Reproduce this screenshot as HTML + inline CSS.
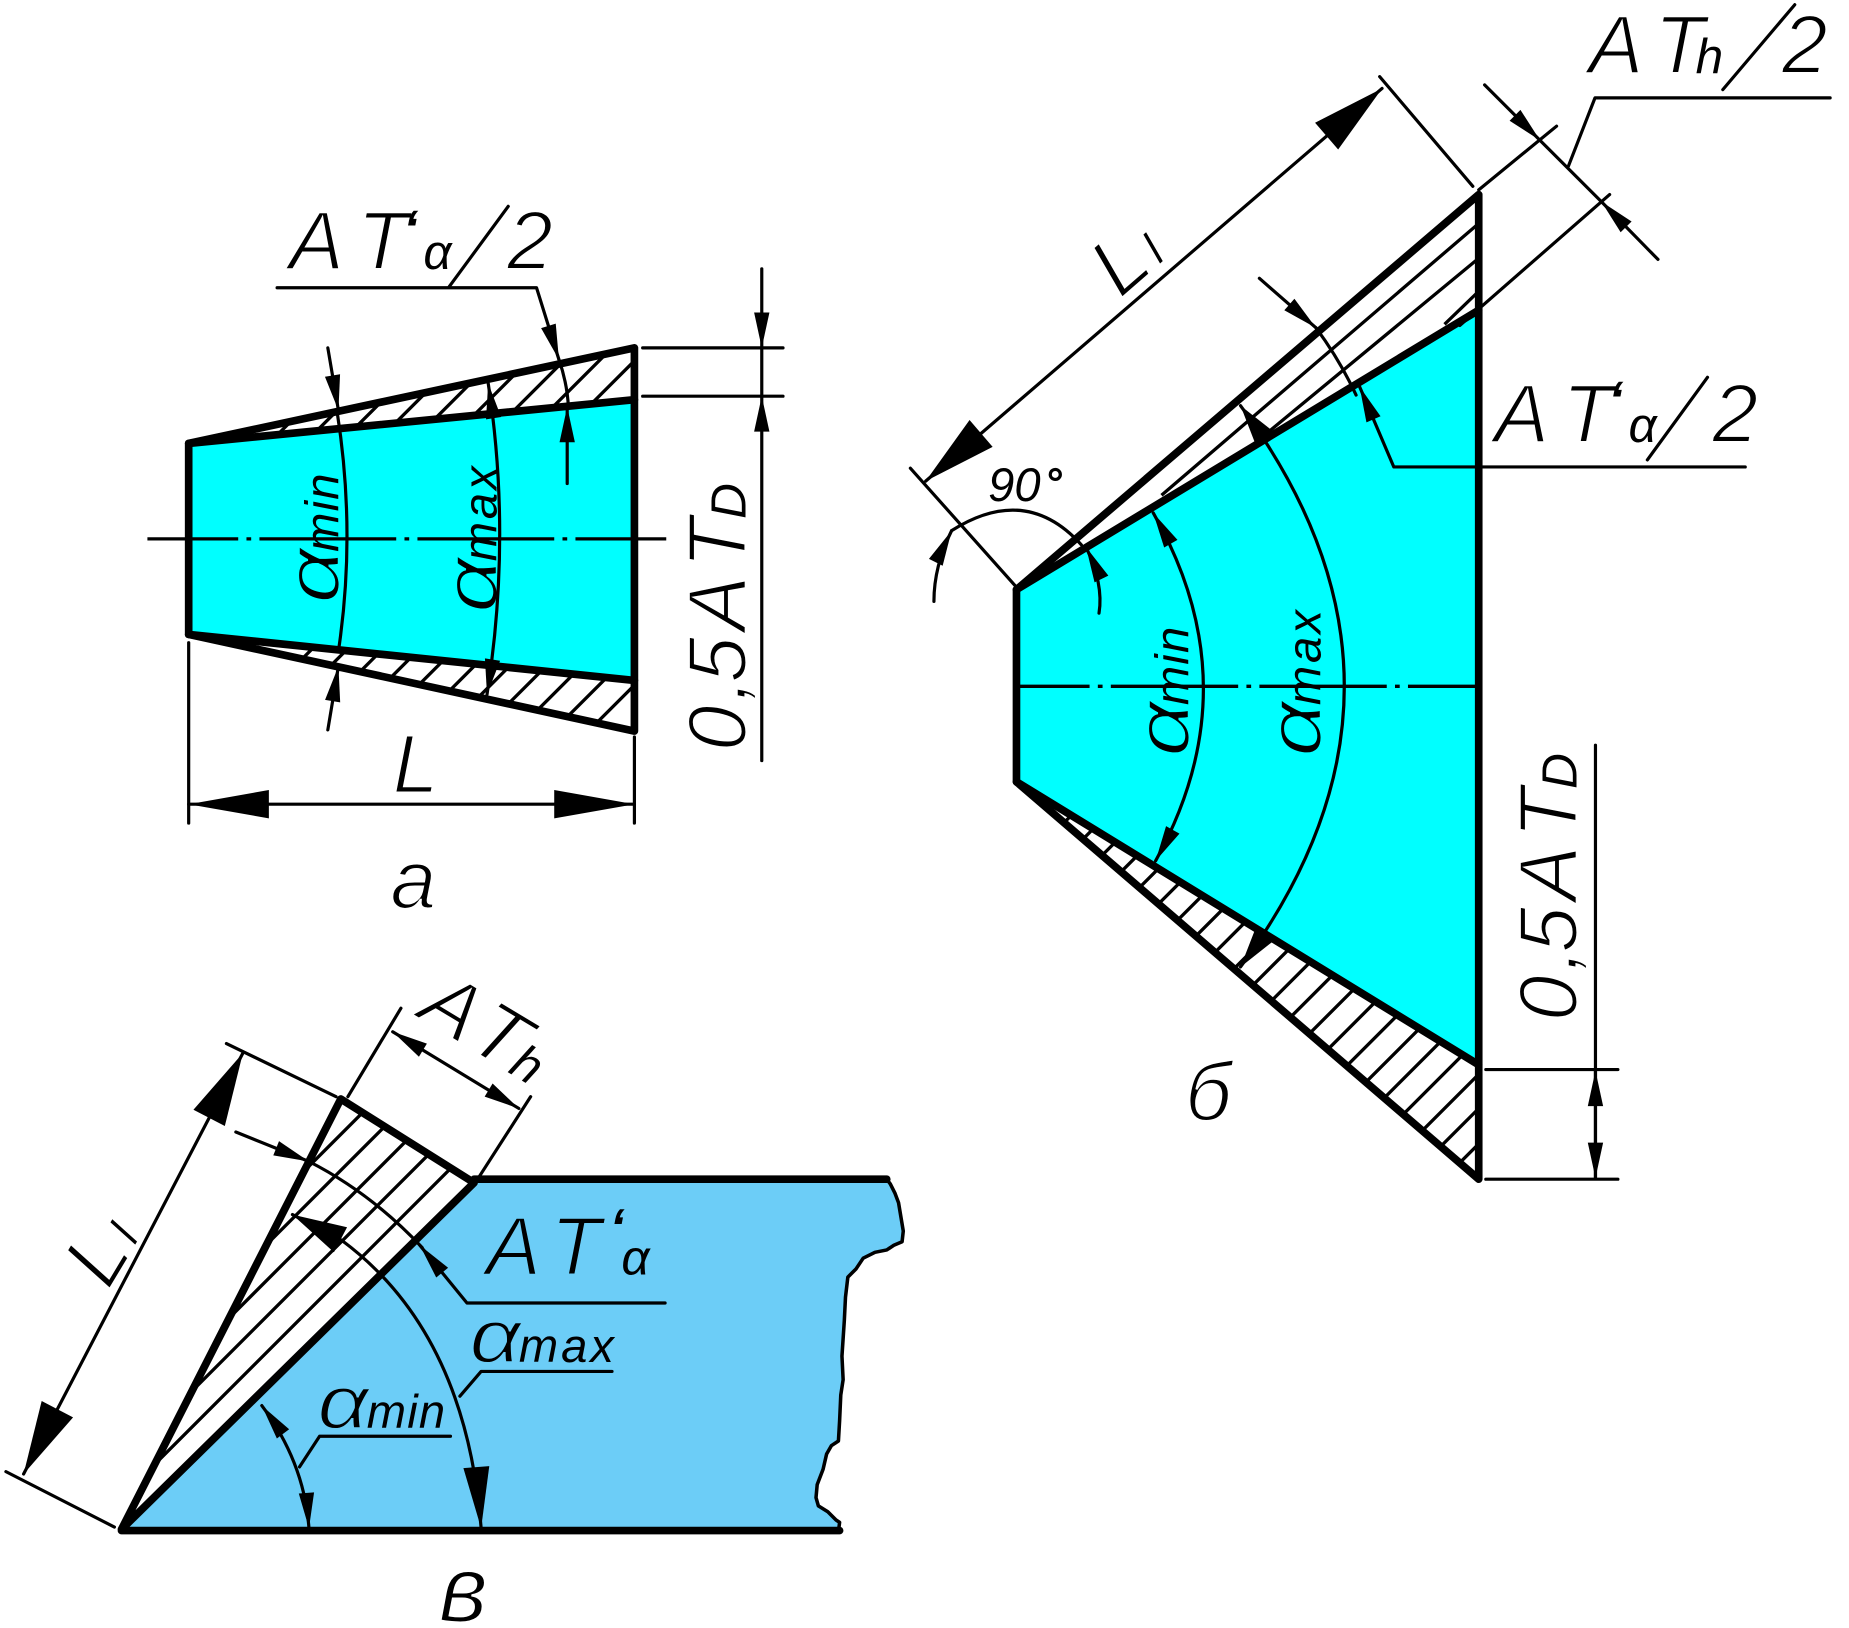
<!DOCTYPE html>
<html><head><meta charset="utf-8"><style>
html,body{margin:0;padding:0;background:#fff}
svg{display:block}
text{font-family:"Liberation Sans",sans-serif;font-style:italic;fill:#000}
.w{stroke:#fff;stroke-width:1.8}
.b{stroke:#6ccdf7;stroke-width:1.8}
.c2{stroke:#0ff;stroke-width:1.6}
.b2{stroke:#6ccdf7;stroke-width:1.6}
.ap{font-weight:bold;font-size:44px}
.l{fill:none;stroke:#000;stroke-width:2.7;stroke-linecap:round;stroke-linejoin:round}
.h{fill:none;stroke:#000;stroke-width:2.8}
.t{fill:none;stroke:#000;stroke-width:6.5;stroke-linecap:round;stroke-linejoin:round}
</style></head><body>
<svg xmlns="http://www.w3.org/2000/svg" width="1849" height="1628" viewBox="0 0 1568 1380.6">
<defs>
<marker id="s" markerUnits="userSpaceOnUse" markerWidth="70" markerHeight="40" viewBox="-35 -20 70 40" refX="0" refY="0" orient="auto-start-reverse"><path d="M0,0 L-30,-6.5 L-30,6.5Z"/></marker>
<marker id="k" markerUnits="userSpaceOnUse" markerWidth="70" markerHeight="40" viewBox="-35 -20 70 40" refX="0" refY="0" orient="auto-start-reverse"><path d="M0,0 L-33,-9 L-33,9Z"/></marker>
<marker id="m" markerUnits="userSpaceOnUse" markerWidth="120" markerHeight="60" viewBox="-60 -30 120 60" refX="0" refY="0" orient="auto-start-reverse"><path d="M0,0 L-52,-11 L-52,11Z"/></marker>
<marker id="n" markerUnits="userSpaceOnUse" markerWidth="120" markerHeight="60" viewBox="-60 -30 120 60" refX="0" refY="0" orient="auto-start-reverse"><path d="M0,0 L-46,-12 L-46,12Z"/></marker>
<marker id="B" markerUnits="userSpaceOnUse" markerWidth="160" markerHeight="80" viewBox="-80 -40 160 80" refX="0" refY="0" orient="auto-start-reverse"><path d="M0,0 L-68,-12 L-68,12Z"/></marker>
<marker id="C" markerUnits="userSpaceOnUse" markerWidth="160" markerHeight="80" viewBox="-80 -40 160 80" refX="0" refY="0" orient="auto-start-reverse"><path d="M0,0 L-62,-15 L-62,15Z"/></marker>
<clipPath id="c1"><polygon points="160,376 538,295 538,339"/></clipPath>
<clipPath id="c2"><polygon points="160,538 538,577 538,620"/></clipPath>
<clipPath id="c3"><polygon points="862,500 1254,165 1254,263"/></clipPath>
<clipPath id="c4"><polygon points="862,663 1254,903 1254,1000"/></clipPath>
<clipPath id="c5"><polygon points="103,1297 289,932 402,1003"/></clipPath>
</defs>

<!-- fills -->
<polygon points="160,376 538,339 538,577 160,538" fill="#0ff"/>
<polygon points="862,500 1254,263 1254,903 862,663" fill="#0ff"/>
<path d="M103,1297 L402,1000 L752,1000 L755,1004 L759,1012 L762,1020 L764,1032 L766,1044 L765,1053 L758,1056 L752,1060 L742,1062 L732,1067 L726,1076 L719,1083 L717,1100 L716,1120 L714,1150 L715,1170 L713,1183 L712,1205 L711,1222 L705,1226 L701,1233 L698,1246 L693,1259 L692,1270 L694,1277 L702,1282 L709,1289 L712,1291 L711,1299 Z" fill="#6ccdf7"/>

<!-- hatching -->
<g class="h" clip-path="url(#c1)">
<path d="M44 800l700-700M14 800l700-700M-16 800l700-700M-46 800l700-700M-76 800l700-700M-106 800l700-700M-136 800l700-700M-166 800l700-700M-196 800l700-700M-226 800l700-700"/>
</g>
<g class="h" clip-path="url(#c2)">
<path d="M319 800l700-700M289 800l700-700M258 800l700-700M228 800l700-700M197 800l700-700M167 800l700-700M136 800l700-700M106 800l700-700M75 800l700-700M45 800l700-700M15 800l700-700"/>
</g>
<g class="h" clip-path="url(#c3)">
<path d="M1254,189.5 L985,420M1254,219 L1070,371M1254,247 L1225,275"/>
</g>
<g class="h" clip-path="url(#c4)">
<path d="M1124 1100l800-800M1094 1100l800-800M1065 1100l800-800M1035 1100l800-800M1005 1100l800-800M976 1100l800-800M946 1100l800-800M916 1100l800-800M887 1100l800-800M857 1100l800-800M827 1100l800-800M798 1100l800-800M768 1100l800-800M738 1100l800-800M708 1100l800-800M679 1100l800-800M649 1100l800-800M619 1100l800-800M590 1100l800-800M560 1100l800-800M530 1100l800-800M500 1100l800-800"/>
</g>
<g class="h" clip-path="url(#c5)">
<path d="M-27 1400l600-600M-57.5 1400l600-600M-88 1400l600-600M-118.5 1400l600-600M-149 1400l600-600"/>
</g>

<!-- text -->
<g font-size="70">
<!-- a -->
<text class="w" x="245 303" y="228">AT</text>
<text class="ap" x="342" y="209">‘</text>
<text font-size="42" x="359" y="228">α</text>
<text class="w" x="430" y="228">2</text>
<text class="w" x="333" y="672">L</text>
<text class="w" x="331" y="770">а</text>
<text class="w" transform="translate(632,637) rotate(-90)" x="0 42 58 102 155">0,5AT</text>
<text font-size="42" transform="translate(632,637) rotate(-90)" x="197">D</text>
<!-- b -->
<text class="w" x="1347 1403" y="62">AT</text>
<text font-size="42" x="1438" y="62">h</text>
<text class="w" x="1511" y="62">2</text>
<text class="w" x="1267 1325" y="375">AT</text>
<text class="ap" x="1364" y="354">‘</text>
<text font-size="42" x="1381" y="375">α</text>
<text class="w" x="1452" y="375">2</text>
<text class="w" transform="translate(1337,866) rotate(-90)" x="0 42 58 102 155">0,5AT</text>
<text font-size="42" transform="translate(1337,866) rotate(-90)" x="197">D</text>
<text font-size="40" x="838" y="425">90</text>
<text font-size="36" x="886" y="422" font-weight="bold">°</text>
<text class="w" transform="translate(950,254) rotate(-41)" x="0">L</text>
<text class="w" font-size="56" transform="translate(950,254) rotate(-41)" x="42">ı</text>
<text class="w" x="1005" y="950">б</text>
<!-- c -->
<text class="b" x="412 467" y="1081">AT</text>
<text class="ap" x="517" y="1056">‘</text>
<text font-size="42" x="527" y="1081">α</text>
<text class="w" transform="translate(352,862) rotate(31)" x="0 49">AT</text>
<text font-size="42" transform="translate(352,862) rotate(31)" x="91">h</text>
<text class="w" transform="translate(92,1095) rotate(-59)" x="0">L</text>
<text class="w" font-size="56" transform="translate(92,1095) rotate(-59)" x="42">ı</text>
<text class="w" font-size="80" x="372" y="1375">в</text>
</g>
<!-- alpha labels -->
<g font-size="40">
<g transform="translate(287,512) rotate(-90)"><text class="c2" font-size="64" transform="scale(1.3,1)">α</text><text x="44" letter-spacing="1">min</text></g>
<g transform="translate(421,520) rotate(-90)"><text class="c2" font-size="64" transform="scale(1.3,1)">α</text><text x="44" letter-spacing="2.5">max</text></g>
<g transform="translate(1008,642) rotate(-90)"><text class="c2" font-size="64" transform="scale(1.3,1)">α</text><text x="44" letter-spacing="1">min</text></g>
<g transform="translate(1120,642) rotate(-90)"><text class="c2" font-size="64" transform="scale(1.3,1)">α</text><text x="44" letter-spacing="2.5">max</text></g>
<g transform="translate(269,1211)"><text class="b2" font-size="64" transform="scale(1.2,1)">α</text><text x="42" letter-spacing="1">min</text></g>
<g transform="translate(398,1155)"><text class="b2" font-size="64" transform="scale(1.2,1)">α</text><text x="42" letter-spacing="2.5">max</text></g>
</g>
<path class="l" d="M431,175 L381,243"/>
<path class="l" d="M1522,4 L1461,76"/>
<path class="l" d="M1448,320 L1397,390"/>

<!-- thick outlines -->
<polygon class="t" points="160,376 538,295 538,620 160,538" fill="none"/>
<path class="t" d="M160,376 L538,339M160,538 L538,577"/>
<polygon class="t" points="862,500 1254,165 1254,1000 862,663" fill="none"/>
<path class="t" d="M862,500 L1254,263M862,663 L1254,903"/>
<path class="t" d="M103,1297 L289,932 L402,1003 L103,1297 M103,1298 L712,1298 M402,1000 L752,1000"/>
<path fill="none" stroke="#000" stroke-width="3" stroke-linejoin="round" d="M752,1000 L755,1004 L759,1012 L762,1020 L764,1032 L766,1044 L765,1053 L758,1056 L752,1060 L742,1062 L732,1067 L726,1076 L719,1083 L717,1100 L716,1120 L714,1150 L715,1170 L713,1183 L712,1205 L711,1222 L705,1226 L701,1233 L698,1246 L693,1259 L692,1270 L694,1277 L702,1282 L709,1289 L712,1291 L711,1299"/>

<!-- centre lines -->
<path class="h" stroke-dasharray="116 7 4 7" stroke-dashoffset="39" d="M125,457 L565,457"/>
<path class="h" stroke-dasharray="108 7 4 7" stroke-dashoffset="46" d="M862,582 L1254,582"/>

<!-- a dims -->
<path class="l" d="M160,545 L160,698M538,625 L538,698M545,295 L664,295M545,336 L664,336"/>
<path class="l" marker-start="url(#B)" marker-end="url(#B)" d="M160,682 L538,682"/>
<path class="l" marker-end="url(#s)" d="M646,228 L646,295"/>
<path class="l" marker-end="url(#s)" d="M646,645 L646,336"/>
<path class="l" d="M646,295 L646,336"/>
<path class="l" marker-end="url(#s)" d="M235,244 L455,244 L474,305"/>
<path class="l" d="M474,305 Q481,325 482,345"/>
<path class="l" marker-end="url(#s)" d="M481,410 L481,345"/>
<path class="l" marker-end="url(#s)" d="M278,295 L287,348"/>
<path class="l" marker-end="url(#s)" d="M278,619 L287,565"/>
<path class="l" d="M286,350 Q302,452 287,552"/>
<path class="l" marker-start="url(#s)" marker-end="url(#s)" d="M414,325 Q434,455 413,589"/>

<!-- b dims -->
<path class="l" d="M1170,65 L1249,158M772,397 L862,498M1254,161 L1320,107M1238,276 L1365,165"/>
<path class="l" marker-start="url(#C)" marker-end="url(#C)" d="M785,408 L1172,75"/>
<path class="l" marker-end="url(#s)" d="M1259,72 L1306,119"/>
<path class="l" d="M1306,119 L1358,171"/>
<path class="l" marker-end="url(#s)" d="M1406,220 L1358,171"/>
<path class="l" d="M1330,141 L1352.6,83 L1552,83"/>
<path class="l" marker-end="url(#s)" d="M1068,236 L1116,278"/>
<path class="l" d="M1116,278 Q1136,305 1150,335"/>
<path class="l" marker-end="url(#s)" d="M1480,396 L1182,396 L1153,328"/>
<path class="l" marker-start="url(#s)" marker-end="url(#s)" d="M978,435 Q1062,582 980,730"/>
<path class="l" marker-start="url(#k)" marker-end="url(#k)" d="M1052,344 Q1228,582 1052,820"/>
<path class="l" marker-end="url(#s)" d="M792,510 Q792,480 807,450"/>
<path class="l" d="M807,450 Q870,410 917,462"/>
<path class="l" marker-end="url(#s)" d="M932,520 Q936,495 921,464"/>
<path class="l" d="M1260,907 L1372,907M1260,1000 L1372,1000M1353,632 L1353,1000"/>
<path class="l" marker-start="url(#s)" marker-end="url(#s)" d="M1353,908 L1353,999"/>

<!-- c dims -->
<path class="l" d="M192,885 L285,930M5,1248 L97,1295M340,855 L295,930M450,930 L405,1000"/>
<path class="l" marker-start="url(#C)" marker-end="url(#C)" d="M206,893 L20,1250"/>
<path class="l" marker-start="url(#s)" marker-end="url(#s)" d="M333,875 L440,940"/>
<path class="l" marker-end="url(#s)" d="M200,960 L262,985"/>
<path class="l" d="M262,985 Q315,1012 358,1058"/>
<path class="l" marker-end="url(#s)" d="M564,1105 L396,1105 L356,1056"/>
<path class="l" marker-end="url(#n)" d="M290,1052 L248,1030"/>
<path class="l" marker-end="url(#m)" d="M290,1052 Q395,1130 408,1296"/>
<path class="l" marker-start="url(#s)" marker-end="url(#s)" d="M222,1192 Q258,1240 262,1296"/>
<path class="l" d="M382,1218 L271,1218 L254,1244M519,1163 L408,1163 L390,1184"/>
</svg>
</body></html>
